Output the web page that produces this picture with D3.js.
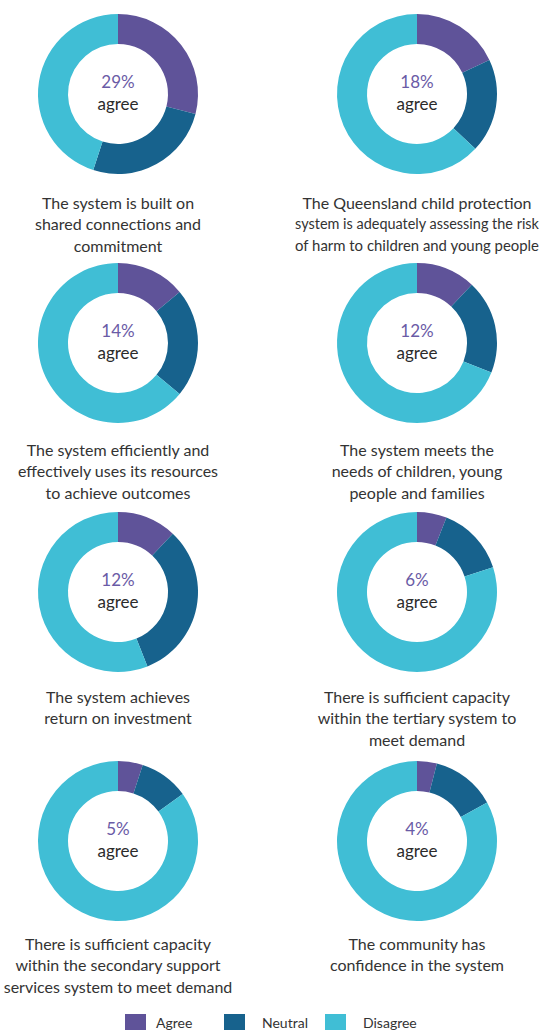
<!DOCTYPE html>
<html>
<head>
<meta charset="utf-8">
<script src="https://cdn.jsdelivr.net/npm/d3@7"></script>
<style>
  html, body { margin: 0; padding: 0; background: #fff; }
  svg { display: block; }
  text { font-family: "Lato", sans-serif; }
</style>
</head>
<body>
<div id="chart"></div>
<script>
// data (percent)
const labels = [
  ["The system is built on", "shared connections and", "commitment"],
  ["The Queensland child protection", "system is adequately assessing the risk", "of harm to children and young people"],
  ["The system efficiently and", "effectively uses its resources", "to achieve outcomes"],
  ["The system meets the", "needs of children, young", "people and families"],
  ["The system achieves", "return on investment"],
  ["There is sufficient capacity", "within the tertiary system to", "meet demand"],
  ["There is sufficient capacity", "within the secondary support", "services system to meet demand"],
  ["The community has", "confidence in the system"]
];
const agree = [29, 18, 14, 12, 12, 6, 5, 4];
const neutral = [26, 19, 22, 19, 32, 14, 10, 13];
const disagree = [45, 63, 64, 69, 56, 80, 85, 83];
const categories = ["Agree", "Neutral", "Disagree"];

const width = 549;
const height = 1030;
const maxLine = 244;

const color = d3.scaleOrdinal()
  .domain(categories)
  .range(["#5f5399", "#17628d", "#40bed5"]);

const svg = d3.select("#chart")
  .append("svg")
  .attr("width", width)
  .attr("height", height);

const xCol = d3.scaleOrdinal().domain([0, 1]).range([118, 417]);
const yRow = d3.scaleLinear().domain([0, 3]).range([94, 841]);
const yLabel = d3.scaleLinear().domain([0, 3]).range([202, 943]);

const pie = d3.pie().sort(null).value(d => d.value);
const arc = d3.arc().innerRadius(50).outerRadius(80);

labels.forEach((lines, i) => {
  const col = i % 2;
  const row = Math.floor(i / 2);
  const vals = [
    { key: "Agree", value: agree[i] },
    { key: "Neutral", value: neutral[i] },
    { key: "Disagree", value: disagree[i] }
  ];

  const g = svg.append("g")
    .attr("transform", `translate(${xCol(col)},${yRow(row)})`);

  g.selectAll("path")
    .data(pie(vals))
    .enter()
    .append("path")
    .attr("d", arc)
    .attr("fill", d => color(d.data.key));

  g.append("text")
    .attr("text-anchor", "middle")
    .attr("y", -13)
    .attr("dominant-baseline", "central")
    .attr("fill", "#6a5ba6")
    .style("font-size", "17px")
    .text(agree[i] + "%");

  g.append("text")
    .attr("text-anchor", "middle")
    .attr("y", 9)
    .attr("dominant-baseline", "central")
    .attr("fill", "#2b2b2b")
    .style("font-size", "17px")
    .text("agree");

  lines.forEach((line, j) => {
    const t = svg.append("text")
      .attr("x", xCol(col))
      .attr("y", yLabel(row) + j * 21.5)
      .attr("text-anchor", "middle")
      .attr("dominant-baseline", "central")
      .attr("fill", "#333")
      .style("font-size", "16px")
      .text(line);
    // squeeze the longest lines so they stay inside the page
    if (t.node().getComputedTextLength() > maxLine) {
      t.style("font-size", (16 * maxLine / t.node().getComputedTextLength()) + "px");
    }
  });
});

// legend
const legendX = d3.scaleOrdinal().domain(categories).range([125, 224, 325]);

const legend = svg.append("g");

legend.selectAll("rect")
  .data(categories)
  .enter()
  .append("rect")
  .attr("x", d => legendX(d))
  .attr("y", 1014)
  .attr("width", 21)
  .attr("height", 16)
  .attr("fill", d => color(d));

legend.selectAll("text")
  .data(categories)
  .enter()
  .append("text")
  .attr("x", d => legendX(d) + (d === "Agree" ? 31 : 38))
  .attr("y", 1022)
  .attr("dominant-baseline", "central")
  .attr("fill", "#333")
  .style("font-size", "14px")
  .text(d => d);
</script>
</body>
</html>
